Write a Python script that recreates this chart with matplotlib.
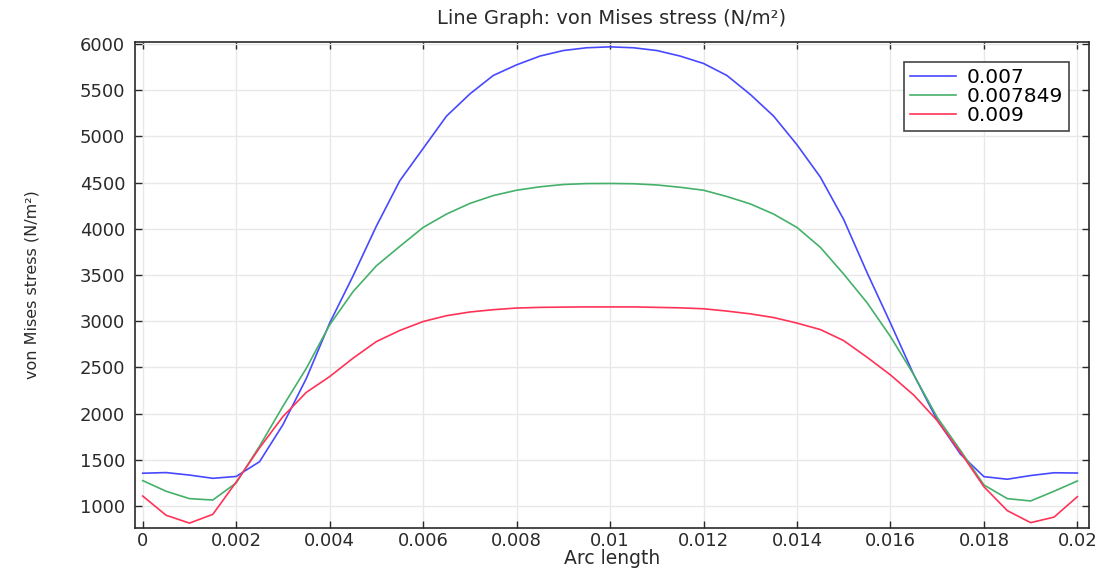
import matplotlib
matplotlib.use('Agg')
import matplotlib.pyplot as plt
import numpy as np

# --- Data
arc_length = [i * 0.0005 for i in range(41)]

stress_0007 = [1355, 1362, 1335, 1300, 1320, 1480, 1880, 2380, 2980, 3490,
               4030, 4520, 4870, 5220, 5460, 5660, 5775, 5870, 5930, 5960,
               5970, 5960, 5930, 5870, 5790, 5660, 5455, 5220, 4910, 4560,
               4100, 3525, 2980, 2420, 1930, 1560, 1318, 1290, 1330, 1360,
               1357]

stress_0007849 = [1275, 1160, 1080, 1065, 1250, 1648, 2080, 2490, 2961, 3320,
                  3600, 3810, 4015, 4160, 4275, 4360, 4418, 4455, 4480, 4490,
                  4491, 4488, 4475, 4450, 4418, 4350, 4270, 4160, 4015, 3800,
                  3510, 3200, 2834, 2420, 1960, 1600, 1228, 1080, 1055, 1160,
                  1271]

stress_0009 = [1108, 900, 815, 910, 1260, 1630, 1968, 2230, 2401, 2600,
               2780, 2900, 2997, 3060, 3100, 3125, 3143, 3150, 3153, 3155,
               3155, 3155, 3150, 3145, 3135, 3110, 3080, 3040, 2980, 2910,
               2790, 2610, 2419, 2200, 1925, 1580, 1209, 950, 820, 880,
               1101]

labels = ['0.007', '0.007849', '0.009']
x_ticks = [0, 0.002, 0.004, 0.006, 0.008, 0.01, 0.012, 0.014, 0.016, 0.018, 0.02]
x_ticklabels = ['0', '0.002', '0.004', '0.006', '0.008', '0.01', '0.012',
                '0.014', '0.016', '0.018', '0.02']
y_ticks = list(range(1000, 6001, 500))

# --- Plot setup
plt.rcParams['font.family'] = ['DejaVu Sans']
TICK_SIZE = 13
TEXT_COLOR = '#2a2a2a'

fig = plt.figure(figsize=(11.04, 5.68), dpi=100)
ax = fig.add_axes([0.1223, 0.0704, 0.8641, 0.8556])

colors = ['#4848ff', '#45b06a', '#ff3358']
for series, label, color in zip([stress_0007, stress_0007849, stress_0009], labels, colors):
    ax.plot(arc_length, series, color=color, linewidth=1.2, label=label)

ax.set_xlim(-0.000165, 0.020248)
ax.set_ylim(762, 6022)
ax.set_xticks(x_ticks)
ax.set_xticklabels(x_ticklabels)
ax.set_yticks(y_ticks)

ax.grid(True, color='#e8e8e8', linewidth=1.0)
ax.set_axisbelow(True)
ax.tick_params(direction='in', top=True, right=True, length=5, width=1,
               labelsize=TICK_SIZE, colors=TEXT_COLOR, pad=7)
ax.tick_params(axis='x', pad=3)
for spine in ax.spines.values():
    spine.set_linewidth(1.2)
    spine.set_color(TEXT_COLOR)

ax.set_title('Line Graph: von Mises stress (N/m²)', fontsize=14,
             color=TEXT_COLOR, pad=13)
ax.set_xlabel('Arc length', fontsize=13.5, color=TEXT_COLOR)
ax.xaxis.set_label_coords(0.5, -0.043)
ax.set_ylabel('von Mises stress (N/m²)', fontsize=11.5, color=TEXT_COLOR)
ax.yaxis.set_label_coords(-0.100, 0.5)

leg = ax.legend(loc='upper right', fontsize=14.5, frameon=True,
                fancybox=False, edgecolor='#444444', framealpha=1,
                handlelength=2.3, handletextpad=0.5, borderpad=0.3,
                labelspacing=0.0, borderaxespad=1.0)
leg.get_frame().set_linewidth(1.2)

fig.savefig('out.png', dpi=100)
